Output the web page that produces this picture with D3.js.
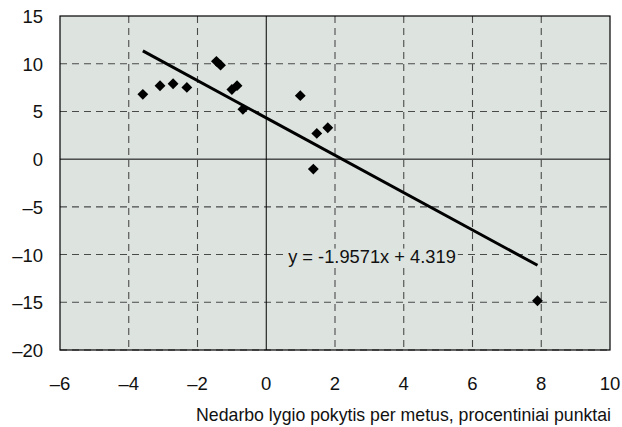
<!DOCTYPE html>
<html><head><meta charset="utf-8">
<script src="https://cdn.jsdelivr.net/npm/d3@7"></script>
<style>body{margin:0;background:#fff}svg{display:block}text{font-family:"Liberation Sans",Arial,sans-serif;fill:#111}</style>
</head><body><svg id="c" width="622" height="427"></svg>
<script>
const xValues = [-3.59,-3.09,-2.71,-2.31,-1.45,-1.33,-0.85,-1.0,-0.68,0.99,1.47,1.79,1.37,7.89];
const yValues = [6.79,7.69,7.9,7.52,10.25,9.85,7.7,7.3,5.22,6.65,2.7,3.29,-1.04,-14.84];
const xTicks = [-6,-4,-2,0,2,4,6,8,10];
const yTicks = [15,10,5,0,-5,-10,-15,-20];
const slope = -1.9571, intercept = 4.319;
const equationLabel = "y = -1.9571x + 4.319";
const xTitle = "Nedarbo lygio pokytis per metus, procentiniai punktai";

const svg = d3.select("#c");
const L=60,R=610,T=16,B=350;
const x = d3.scaleLinear().domain([-6,10]).range([L,R]);
const y = d3.scaleLinear().domain([-20,15]).range([B,T]);
const fmt = v => v<0 ? "\u2013"+Math.abs(v) : String(v);

svg.append("rect").attr("x",L).attr("y",T).attr("width",R-L).attr("height",B-T).attr("fill","#dde4e0");

// grid
const g = svg.append("g");
xTicks.filter(v=>v!==0 && v>-6 && v<10).forEach(v=>{
  g.append("line").attr("x1",x(v)).attr("x2",x(v)).attr("y1",T).attr("y2",B)
   .attr("stroke","#4a4a4a").attr("stroke-width",1.1).attr("stroke-dasharray","7,5");
});
yTicks.filter(v=>v!==0 && v<15).forEach(v=>{
  g.append("line").attr("x1",L).attr("x2",R).attr("y1",y(v)).attr("y2",y(v))
   .attr("stroke","#4a4a4a").attr("stroke-width",1.1).attr("stroke-dasharray","7,5");
});
// zero lines
svg.append("line").attr("x1",x(0)).attr("x2",x(0)).attr("y1",T).attr("y2",B).attr("stroke","#000").attr("stroke-width",1);
svg.append("line").attr("x1",L).attr("x2",R).attr("y1",y(0)).attr("y2",y(0)).attr("stroke","#000").attr("stroke-width",1);
// border
svg.append("rect").attr("x",L).attr("y",T).attr("width",R-L).attr("height",B-T).attr("fill","none").attr("stroke","#000").attr("stroke-width",1.2);

// regression line
const x0 = d3.min(xValues), x1 = d3.max(xValues);
svg.append("line").attr("x1",x(x0)).attr("y1",y(slope*x0+intercept)).attr("x2",x(x1)).attr("y2",y(slope*x1+intercept))
  .attr("stroke","#000").attr("stroke-width",3);

// points
const sym = d3.symbol().type(d3.symbolDiamond2).size(75);
svg.append("g").selectAll("path").data(xValues.map((v,i)=>[v,yValues[i]])).join("path")
  .attr("d",sym).attr("transform",d=>`translate(${x(d[0])},${y(d[1])})`).attr("fill","#000");

// equation label with background
const eq = svg.append("text").attr("x",372).attr("y",y(-10)+8).attr("text-anchor","middle")
  .attr("font-size",18.3).text(equationLabel);
const bb = eq.node().getBBox();
svg.insert("rect","text").attr("x",bb.x-2).attr("y",bb.y+3).attr("width",bb.width+4).attr("height",bb.height-5).attr("fill","#dde4e0");
eq.raise();

// axes labels
svg.append("g").selectAll("text").data(yTicks).join("text")
  .attr("x",43).attr("y",d=>y(d)+7).attr("text-anchor","end").attr("font-size",18.5).text(fmt);
svg.append("g").selectAll("text").data(xTicks).join("text")
  .attr("x",d=>x(d)).attr("y",390).attr("text-anchor","middle").attr("font-size",18.5).text(fmt);
svg.append("text").attr("x",611).attr("y",421).attr("text-anchor","end").attr("font-size",17.7).text(xTitle);
</script></body></html>
